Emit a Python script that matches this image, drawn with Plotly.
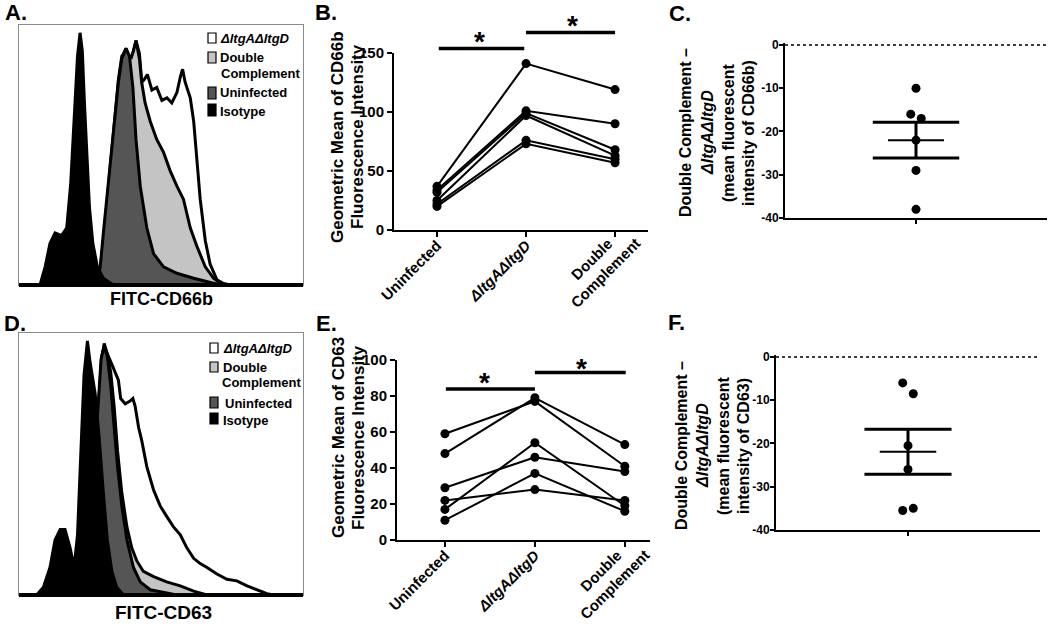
import numpy as np
import plotly.graph_objects as go

W, H = 1050, 626
FONT = "Liberation Sans, Arial, sans-serif"

# ---------------- data ----------------
categories = ["Uninfected", "<i>ΔltgAΔltgD</i>", "Double<br>Complement"]

# Panel B: CD66b geometric mean (six donors)
cd66b_uninf = [37, 34, 32, 25, 22, 20]
cd66b_dko = [141, 101, 99, 97, 76, 73]
cd66b_dc = [119, 90, 68, 63, 60, 57]

# Panel E: CD63 geometric mean (six donors)
cd63_uninf = [59, 48, 29, 22, 17, 11]
cd63_dko = [77, 79, 46, 28, 54, 37]
cd63_dc = [41, 53, 38, 22, 19, 16]

# Panels C / F: Double Complement - ΔltgAΔltgD
diff_cd66b = [-10, -16, -17, -22, -29, -38]
jit_cd66b = [0, -0.04, 0.04, 0, 0, 0]
diff_cd63 = [-6, -8.5, -20.5, -26, -35.5, -35]
jit_cd63 = [-0.04, 0.04, 0, 0, -0.04, 0.04]
diff_ticks = [0, -10, -20, -30, -40]
diff_ticktext = ["0", "-10", "-20", "-30", "-40"]

# Panel A histograms (FITC-CD66b channel vs relative count)
a_iso_x = [7.4, 9.2, 10.9, 12.7, 15.0, 16.8, 18.2, 19.4, 20.6, 21.5, 22.3, 23.0, 23.9, 24.8, 26.0, 27.6, 29.7, 32.7, 34.4]
a_iso_y = [0, 7, 16, 20, 19, 22, 39, 65, 88, 97, 90, 71, 48, 30, 16, 7, 2.6, 0.4, 0]
a_uninf_x = [27.4, 28.6, 29.7, 31.5, 33.3, 35.0, 36.2, 37.7, 38.9, 40.1, 41.2, 42.7, 45.0, 47.4, 50.9, 55.6, 61.5, 67.3, 70.9]
a_uninf_y = [0, 7, 20, 39, 58, 78, 87, 91, 88, 76, 56, 38, 22, 12, 7, 4.5, 2.6, 1, 0]
a_dc_x = [28.0, 29.7, 31.5, 33.3, 35.0, 36.2, 37.7, 39.4, 40.3, 41.2, 42.4, 43.2, 44.4, 46.2, 48.5, 50.9, 53.2, 55.6, 57.9, 60.3, 62.6, 65.6, 68.5, 70.9, 73.2]
a_dc_y = [0, 17, 38, 58, 79, 88, 90, 87, 90, 94, 87, 78, 70, 63, 56, 51, 44, 38, 33, 22, 15, 7, 2.6, 0.6, 0]
a_dko_x = [28.6, 30.3, 32.1, 33.8, 35.6, 36.8, 37.7, 39.1, 40.3, 41.2, 42.4, 43.2, 44.1, 45.2, 46.8, 48.5, 50.3, 52.1, 53.8, 55.6, 56.8, 57.6, 58.5, 60.3, 61.5, 62.6, 63.8, 65.6, 67.3, 69.7, 72.0, 74.4]
a_dko_y = [0, 20, 40, 61, 81, 89, 91, 85, 90, 94, 89, 78, 79, 81, 75, 76, 71, 72, 70, 74, 80, 83, 78, 72, 63, 48, 33, 17, 8, 2, 0.6, 0]

# Panel D histograms (FITC-CD63 channel vs relative count)
d_iso_x = [6.2, 8.6, 10.9, 12.7, 14.5, 16.2, 18.0, 19.4, 20.6, 21.7, 22.9, 24.1, 25.0, 26.8, 28.3, 29.7, 31.1, 32.7, 34.4, 36.8]
d_iso_y = [0, 3, 10.5, 21, 25, 25, 18, 10.5, 23, 55, 84, 97, 89, 77, 59, 39, 21, 9, 3, 0]
d_uninf_x = [22.7, 24.4, 26.2, 27.6, 28.9, 30.0, 31.1, 32.3, 33.5, 34.7, 36.2, 38.0, 40.3, 42.7, 46.2, 50.9, 55.6]
d_uninf_y = [0, 10.5, 36, 68, 90, 95, 91, 80, 64, 49, 34, 21, 10.5, 5, 2, 1, 0]
d_dc_x = [23.3, 24.8, 26.4, 27.8, 29.1, 30.0, 31.1, 32.3, 33.5, 34.7, 36.2, 38.0, 39.7, 41.5, 43.8, 47.4, 52.0, 56.8, 61.5, 66.2]
d_dc_y = [0, 10.5, 36, 68, 91, 95, 92, 85, 72, 55, 39, 26, 18, 13, 9, 7, 5, 3.5, 1.5, 0]
d_dko_x = [23.6, 25.0, 26.7, 28.1, 29.3, 30.0, 31.1, 32.7, 33.8, 35.0, 35.8, 37.4, 39.1, 40.1, 40.9, 42.1, 43.2, 45.0, 47.4, 49.7, 52.0, 54.4, 56.8, 59.1, 61.5, 63.8, 66.2, 69.7, 73.2, 76.7, 80.3, 83.8, 87.3, 89.7]
d_dko_y = [0, 10.5, 36, 68, 91, 96, 92, 88, 85, 82, 75, 73, 74, 75, 72, 64, 59, 49, 40, 34, 30, 26, 23, 18, 14, 12, 10.5, 8, 6, 5.4, 3.5, 2, 0.5, 0]

LEGEND_LABELS = ["<i>ΔltgAΔltgD</i>", "Double", "Complement", "Uninfected", "Isotype"]
COL_WHITE, COL_LIGHT, COL_DARK, COL_BLACK = "#ffffff", "#c4c4c4", "#555555", "#000000"


def px(x):
    return x / W


def py(y):
    return 1 - y / H


fig = go.Figure()
ann = []
shapes = []

# ---------------- histograms ----------------
def hist_panel(xa, ya, curves):
    for xs, ys, col in curves:
        fig.add_trace(go.Scatter(
            x=xs, y=ys, xaxis=xa, yaxis=ya, mode="lines", fill="tozeroy",
            fillcolor=col, line=dict(color="black", width=3), hoverinfo="skip"))


hist_panel("x", "y", [(a_dko_x, a_dko_y, COL_WHITE), (a_dc_x, a_dc_y, COL_LIGHT),
                      (a_uninf_x, a_uninf_y, COL_DARK), (a_iso_x, a_iso_y, COL_BLACK)])
hist_panel("x4", "y4", [(d_dko_x, d_dko_y, COL_WHITE), (d_dc_x, d_dc_y, COL_LIGHT),
                        (d_uninf_x, d_uninf_y, COL_DARK), (d_iso_x, d_iso_y, COL_BLACK)])

# ---------------- paired line plots ----------------
def paired(xa, ya, u, d, c):
    for i in range(len(u)):
        fig.add_trace(go.Scatter(
            x=[0, 1, 2], y=[u[i], d[i], c[i]], xaxis=xa, yaxis=ya,
            mode="lines+markers", line=dict(color="black", width=2),
            marker=dict(color="black", size=9), cliponaxis=False, hoverinfo="skip"))


paired("x2", "y2", cd66b_uninf, cd66b_dko, cd66b_dc)
paired("x5", "y5", cd63_uninf, cd63_dko, cd63_dc)

# ---------------- difference dot plots ----------------
def diffplot(xa, ya, vals, jit):
    v = np.array(vals, dtype=float)
    m = v.mean()
    s = v.std(ddof=1) / np.sqrt(len(v))
    fig.add_trace(go.Scatter(x=[-1, 1], y=[0, 0], xaxis=xa, yaxis=ya, mode="lines",
                             line=dict(color="black", width=1.5, dash="dot"), hoverinfo="skip"))
    fig.add_trace(go.Scatter(x=jit, y=vals, xaxis=xa, yaxis=ya, mode="markers",
                             marker=dict(color="black", size=9), cliponaxis=False, hoverinfo="skip"))
    fig.add_trace(go.Scatter(x=[0, 0], y=[m - s, m + s], xaxis=xa, yaxis=ya, mode="lines",
                             line=dict(color="black", width=3), hoverinfo="skip"))
    for yy, hw, lw in [(m + s, 0.33, 3), (m - s, 0.33, 3), (m, 0.214, 2)]:
        fig.add_trace(go.Scatter(x=[-hw, hw], y=[yy, yy], xaxis=xa, yaxis=ya, mode="lines",
                                 line=dict(color="black", width=lw), hoverinfo="skip"))


diffplot("x3", "y3", diff_cd66b, jit_cd66b)
diffplot("x6", "y6", diff_cd63, jit_cd63)

# ---------------- axes ----------------
tickfont_b = dict(family=FONT, size=15, color="black", weight="bold")
tickfont_c = dict(family=FONT, size=12, color="black", weight="bold")
catfont = dict(family=FONT, size=15, color="black", weight="bold")

hist_x = dict(range=[0, 100], showline=True, mirror=True, linecolor="#8a8a8a", linewidth=1,
              showticklabels=False, ticks="", showgrid=False, zeroline=False, automargin=False)
hist_y = dict(range=[0, 100], showline=True, mirror=True, linecolor="#8a8a8a", linewidth=1,
              showticklabels=False, ticks="", showgrid=False, zeroline=False, automargin=False)

line_ax = dict(showline=True, linecolor="black", linewidth=2, ticks="outside", ticklen=5,
               tickwidth=2, tickcolor="black", showgrid=False, zeroline=False, automargin=False)
line_ax_c = dict(line_ax, ticklen=4)

# the two-line third category label is drawn as a centred annotation
cat_ticktext = categories[:2] + [""]

layout = dict(
    width=W, height=H, margin=dict(l=0, r=0, t=0, b=0, autoexpand=False), showlegend=False,
    paper_bgcolor="white", plot_bgcolor="white",
    xaxis=dict(domain=[px(19), px(303)], anchor="y", **hist_x),
    yaxis=dict(domain=[py(285), py(25)], anchor="x", **hist_y),
    xaxis4=dict(domain=[px(19), px(303)], anchor="y4", **hist_x),
    yaxis4=dict(domain=[py(595), py(333)], anchor="x4", **hist_y),
    xaxis2=dict(domain=[px(394), px(648)], anchor="y2", range=[-0.483, 2.37],
                tickvals=[0, 1, 2], ticktext=cat_ticktext, tickangle=-45, tickfont=catfont,
                ticklabelstandoff=-6, **line_ax),
    yaxis2=dict(domain=[py(230), py(53)], anchor="x2", range=[0, 150],
                tickvals=[0, 50, 100, 150], tickfont=tickfont_b, **line_ax),
    xaxis5=dict(domain=[px(397), px(650)], anchor="y5", range=[-0.533, 2.28],
                tickvals=[0, 1, 2], ticktext=cat_ticktext, tickangle=-45, tickfont=catfont,
                ticklabelstandoff=-6, **line_ax),
    yaxis5=dict(domain=[py(540), py(360)], anchor="x5", range=[0, 100],
                tickvals=[0, 20, 40, 60, 80, 100], tickfont=tickfont_b, **line_ax),
    xaxis3=dict(domain=[px(785), px(1047)], anchor="y3", range=[-1, 1],
                tickvals=[0], ticktext=[""], **line_ax_c),
    yaxis3=dict(domain=[py(218), py(42.8)], anchor="x3", range=[-40, 0.5],
                tickvals=diff_ticks, ticktext=diff_ticktext, tickfont=tickfont_c,
                ticklabelstandoff=-2, **line_ax_c),
    xaxis6=dict(domain=[px(776), px(1040)], anchor="y6", range=[-1, 1],
                tickvals=[0], ticktext=[""], **line_ax_c),
    yaxis6=dict(domain=[py(530), py(354.8)], anchor="x6", range=[-40, 0.5],
                tickvals=diff_ticks, ticktext=diff_ticktext, tickfont=tickfont_c,
                ticklabelstandoff=-2, **line_ax_c),
)

# third category label (centred two-line text, rotated)
for xa, ypix in (("x2", 266), ("x5", 577)):
    ann.append(dict(x=2, y=py(ypix), xref=xa, yref="paper", xshift=-17, text=categories[2],
                    showarrow=False, textangle=-45, align="center", xanchor="center",
                    yanchor="middle", font=catfont))

# baselines of histograms
for yb in (285, 595):
    shapes.append(dict(type="line", xref="paper", yref="paper", x0=px(19), x1=px(303),
                       y0=py(yb), y1=py(yb), line=dict(color="black", width=4)))


def text(x, y, s, size, xanchor="center", angle=0, yanchor="middle"):
    ann.append(dict(x=px(x), y=py(y), xref="paper", yref="paper", text=s, showarrow=False,
                    xanchor=xanchor, yanchor=yanchor, textangle=angle,
                    font=dict(family=FONT, size=size, color="black", weight="bold")))


# panel letters
for lab, x, y in [("A.", 3, 13), ("B.", 313, 13), ("C.", 667, 14),
                  ("D.", 2, 323), ("E.", 314, 323), ("F.", 666, 322)]:
    text(x, y, lab, 22, xanchor="left")

text(161, 299, "FITC-CD66b", 18)
text(163, 612, "FITC-CD63", 19)

# legends
def legend(bx, rows_box, rows_txt, tx):
    cols = [COL_WHITE, COL_LIGHT, COL_DARK, COL_BLACK]
    for col, (y0, y1) in zip(cols, rows_box):
        shapes.append(dict(type="rect", xref="paper", yref="paper", x0=px(bx), x1=px(bx + 8),
                           y0=py(y1), y1=py(y0), fillcolor=col, line=dict(color="black", width=1.2)))
    for s, (x, y) in zip(LEGEND_LABELS, zip(tx, rows_txt)):
        text(x, y, s, 13, xanchor="left")


legend(208, [(33, 43), (52, 63), (87, 99), (104, 116)], [39, 58, 74, 93, 111], [218, 218, 219, 218, 218])
legend(210, [(343, 353), (362, 372), (397, 408), (413, 424)], [348, 367, 382, 403, 420], [221, 221, 220, 223, 221])

# y titles for paired plots
text(337, 137, "Geometric Mean of CD66b", 17, angle=-90)
text(357, 137, "Fluorescence Intensity", 17, angle=-90)
text(338, 438, "Geometric Mean of CD63", 17, angle=-90)
text(358, 438, "Fluorescence Intensity", 17, angle=-90)

# y titles for difference plots
for xs, yc, last in [((685, 707, 728, 748), 133, "intensity of CD66b)"),
                     ((681, 702, 723, 743), 446, "intensity of CD63)")]:
    for x, s in zip(xs, ["Double Complement –", "<i>ΔltgAΔltgD</i>", "(mean fluorescent", last]):
        text(x, yc, s, 16, angle=-90)

# significance bars and stars (x in category units, y in page pixels)
def sig(xa, x0, x1, ybar, xstar, ystar):
    shapes.append(dict(type="line", xref=xa, yref="paper", x0=x0, x1=x1, y0=py(ybar), y1=py(ybar),
                       line=dict(color="black", width=3.5)))
    ann.append(dict(x=xstar, y=py(ystar + 7), xref=xa, yref="paper", text="*", showarrow=False,
                    xanchor="center", yanchor="middle",
                    font=dict(family=FONT, size=28, color="black", weight="bold")))


sig("x2", 0.02, 0.98, 48.5, 0.48, 34)
sig("x2", 1.0, 2.0, 32.5, 1.52, 19)
sig("x5", 0.01, 1.0, 389, 0.44, 375)
sig("x5", 1.0, 2.01, 372.5, 1.52, 361)

layout["annotations"] = ann
layout["shapes"] = shapes
fig.update_layout(**layout)
fig.write_html("out.html", config={"displayModeBar": False},
               post_script="document.body.style.margin='0';document.body.style.overflow='hidden';")
